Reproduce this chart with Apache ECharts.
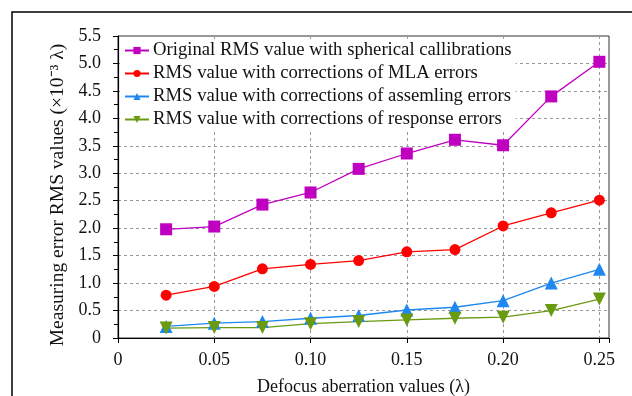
<!DOCTYPE html>
<html>
<head>
<meta charset="utf-8">
<script src="https://cdn.jsdelivr.net/npm/echarts@6/dist/echarts.min.js"></script>
<style>
  html, body { margin: 0; padding: 0; background: #fff; }
  #chart { width: 632px; height: 396px; }
</style>
</head>
<body>
<div id="chart"></div>
<script>
// defocus values (lambda)
const defocus = [0.025, 0.05, 0.075, 0.10, 0.125, 0.15, 0.175, 0.20, 0.225, 0.25];

const original = [1.98, 2.03, 2.43, 2.65, 3.08, 3.36, 3.61, 3.51, 4.40, 5.03];
const mlaCorrected = [0.78, 0.94, 1.26, 1.34, 1.41, 1.57, 1.61, 2.04, 2.28, 2.51];
const assemblyCorrected = [0.21, 0.27, 0.30, 0.36, 0.41, 0.51, 0.56, 0.68, 1.00, 1.25];
const responseCorrected = [0.18, 0.19, 0.19, 0.26, 0.30, 0.33, 0.36, 0.38, 0.50, 0.71];

const seriesNames = [
  'Original RMS value with spherical callibrations',
  'RMS value with corrections of MLA errors',
  'RMS value with corrections of assemling errors',
  'RMS value with corrections of response errors'
];

const FONT = '"Liberation Serif", "Times New Roman", serif';

const pairs = arr => defocus.map((x, i) => [x, arr[i]]);

const chart = echarts.init(document.getElementById('chart'));

chart.setOption({
  backgroundColor: '#fff',
  animation: false,
  textStyle: { fontFamily: FONT },
  graphic: [{
    type: 'rect',
    shape: { x: 12, y: 12, width: 700, height: 500 },
    style: { fill: 'none', stroke: '#000', lineWidth: 1.5 },
    z: -10
  }],
  grid: {
    left: 118, right: 23, top: 36, bottom: 58,
    outerBoundsMode: 'none',
    show: true, borderColor: '#333', borderWidth: 1
  },
  legend: {
    orient: 'vertical',
    left: 120, top: 39,
    itemWidth: 24, itemHeight: 9, itemGap: 4,
    padding: [2, 4, 2, 4],
    backgroundColor: '#fff',
    z: 1,
    textStyle: { fontFamily: FONT, fontSize: 18.7, color: '#111', padding: [0, 0, 0, -1] },
    data: seriesNames
  },
  xAxis: {
    type: 'value',
    min: 0, max: 0.255, interval: 0.05,
    name: 'Defocus aberration values (λ)',
    nameLocation: 'middle', nameGap: 40,
    nameTextStyle: { fontFamily: FONT, fontSize: 18, color: '#111' },
    axisLine: { lineStyle: { color: '#000', width: 1.2 } },
    axisTick: { show: true, inside: false, length: 5, lineStyle: { color: '#000' } },
    axisLabel: {
      fontFamily: FONT, fontSize: 18, color: '#111', margin: 13,
      formatter: v => {
        if (v === 0) return '0';
        if (Math.abs(v * 20 - Math.round(v * 20)) > 1e-6) return '';
        return v.toFixed(2);
      }
    },
    splitLine: { show: true, lineStyle: { color: '#999', type: [3, 3], width: 1 } }
  },
  yAxis: {
    type: 'value',
    min: 0, max: 5.5, interval: 0.5,
    name: 'Measuring error RMS values (×10⁻³ λ)',
    nameLocation: 'middle', nameGap: 41, nameRotate: 90,
    nameTextStyle: { fontFamily: FONT, fontSize: 19.5, color: '#111', padding: [0, 16, 0, 0] },
    axisLine: { show: true, lineStyle: { color: '#000', width: 1.2 } },
    axisTick: { show: true, inside: false, length: 5, lineStyle: { color: '#000' } },
    minorTick: { show: true, splitNumber: 2, length: 4, lineStyle: { color: '#000' } },
    axisLabel: {
      fontFamily: FONT, fontSize: 18, color: '#111', margin: 17,
      formatter: v => (v === 0 ? '0' : v.toFixed(1))
    },
    splitLine: { show: true, lineStyle: { color: '#999', type: [3, 3], width: 1 } }
  },
  series: [
    {
      name: seriesNames[0], type: 'line', data: pairs(original),
      symbol: 'rect', symbolSize: 12,
      itemStyle: { color: '#C000C0' }, lineStyle: { color: '#C000C0', width: 1.3 }
    },
    {
      name: seriesNames[1], type: 'line', data: pairs(mlaCorrected),
      symbol: 'circle', symbolSize: 11,
      itemStyle: { color: '#FF0000' }, lineStyle: { color: '#FF0000', width: 1.3 }
    },
    {
      name: seriesNames[2], type: 'line', data: pairs(assemblyCorrected),
      symbol: 'triangle', symbolSize: 13,
      itemStyle: { color: '#1E88F0' }, lineStyle: { color: '#1E88F0', width: 1.3 }
    },
    {
      name: seriesNames[3], type: 'line', data: pairs(responseCorrected),
      symbol: 'path://M0,0L2,0L1,1.7Z', symbolSize: 13,
      itemStyle: { color: '#6A9A10' }, lineStyle: { color: '#6A9A10', width: 1.3 }
    }
  ]
});
</script>
</body>
</html>
